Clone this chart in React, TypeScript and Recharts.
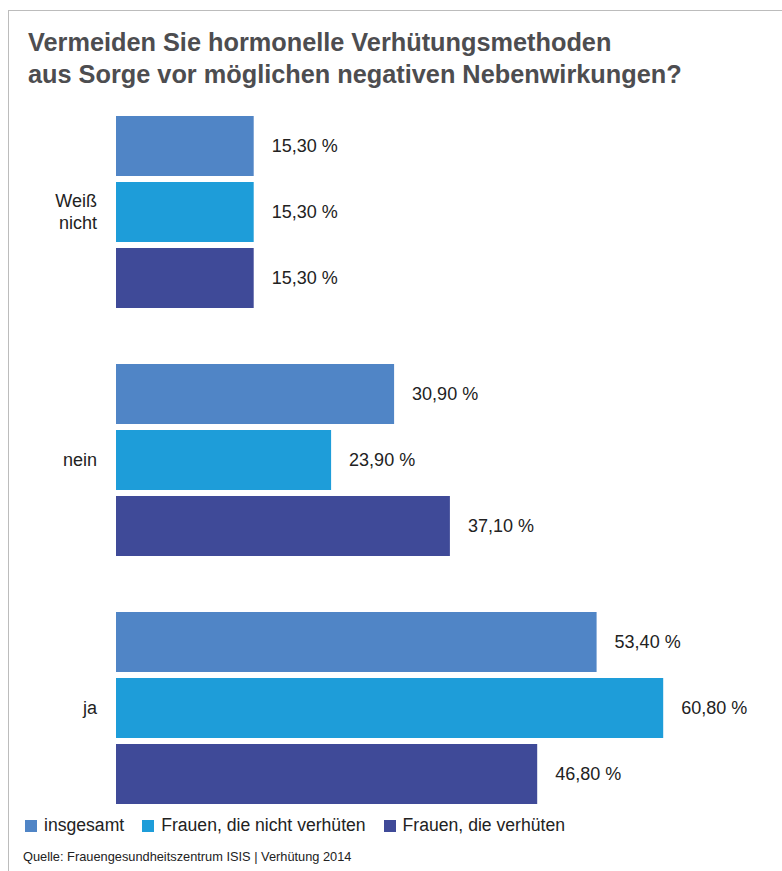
import { BarChart, Bar, XAxis, YAxis, LabelList } from "recharts";

const categories = ["Weiß nicht", "nein", "ja"];
const insgesamt = [15.3, 30.9, 53.4];
const nichtVerhueten = [15.3, 23.9, 60.8];
const verhueten = [15.3, 37.1, 46.8];

const series = [
  { key: "insgesamt", name: "insgesamt", color: "#5085c6", values: insgesamt },
  { key: "nicht", name: "Frauen, die nicht verhüten", color: "#1e9dd9", values: nichtVerhueten },
  { key: "verh", name: "Frauen, die verhüten", color: "#3f4a98", values: verhueten },
];

const data = categories.map((name, i) => {
  const row: Record<string, string | number> = { name };
  series.forEach((s) => (row[s.key] = s.values[i]));
  return row;
});

const FONT = '"Liberation Sans", Arial, Helvetica, sans-serif';

const fmt = (v: any) => Number(v).toFixed(2).replace(".", ",") + " %";

const CategoryTick = (props: any) => {
  const { x, y, payload } = props;
  const lines = String(payload.value).split(" ");
  const lh = 22;
  const start = -((lines.length - 1) * lh) / 2;
  return (
    <text x={x} y={y} textAnchor="end" fill="#222" fontSize={18} fontFamily={FONT}>
      {lines.map((l, i) => (
        <tspan key={i} x={x} dy={i === 0 ? start + 6 : lh}>
          {l}
        </tspan>
      ))}
    </text>
  );
};

const App = () => {
  return (
    <div
      style={{
        position: "absolute",
        left: 0,
        top: 0,
        width: 782,
        height: 871,
        background: "#fff",
        fontFamily: FONT,
        overflow: "hidden",
      }}
    >
      <div
        style={{
          position: "absolute",
          left: 8,
          top: 10,
          right: 0,
          bottom: 0,
          borderTop: "1.5px solid #bcbcbc",
          borderLeft: "1.5px solid #bcbcbc",
        }}
      />
      <div
        style={{
          position: "absolute",
          left: 28,
          top: 26,
          fontSize: 25.3,
          fontWeight: "bold",
          color: "#4d4d50",
          lineHeight: "32px",
        }}
      >
        Vermeiden Sie hormonelle Verhütungsmethoden
        <br />
        aus Sorge vor möglichen negativen Nebenwirkungen?
      </div>
      <div style={{ position: "absolute", left: 0, top: 0 }}>
        <BarChart
          width={782}
          height={871}
          data={data}
          layout="vertical"
          margin={{ top: 88, right: 36, bottom: 39, left: 0 }}
          barCategoryGap={28}
          barGap={6}
        >
          <XAxis type="number" domain={[0, 70]} hide />
          <YAxis
            type="category"
            dataKey="name"
            width={116}
            axisLine={false}
            tickLine={false}
            tickSize={0}
            tickMargin={19}
            tick={<CategoryTick />}
            interval={0}
          />
          {series.map((s) => (
            <Bar key={s.key} dataKey={s.key} name={s.name} fill={s.color} isAnimationActive={false}>
              <LabelList
                dataKey={s.key}
                position="right"
                offset={18}
                formatter={fmt}
                fill="#222"
                fontSize={18}
                fontFamily={FONT}
              />
            </Bar>
          ))}
        </BarChart>
      </div>
      <div
        style={{
          position: "absolute",
          left: 25,
          top: 815,
          display: "flex",
          alignItems: "center",
          fontSize: 17.6,
          color: "#222",
        }}
      >
        {series.map((s) => (
          <div key={s.key} style={{ display: "flex", alignItems: "center", marginRight: 18 }}>
            <span style={{ width: 12, height: 12, background: s.color, display: "inline-block", marginRight: 7 }} />
            <span>{s.name}</span>
          </div>
        ))}
      </div>
      <div style={{ position: "absolute", left: 23, top: 849, fontSize: 12.8, color: "#222" }}>
        Quelle: Frauengesundheitszentrum ISIS | Verhütung 2014
      </div>
    </div>
  );
};

export default App;
